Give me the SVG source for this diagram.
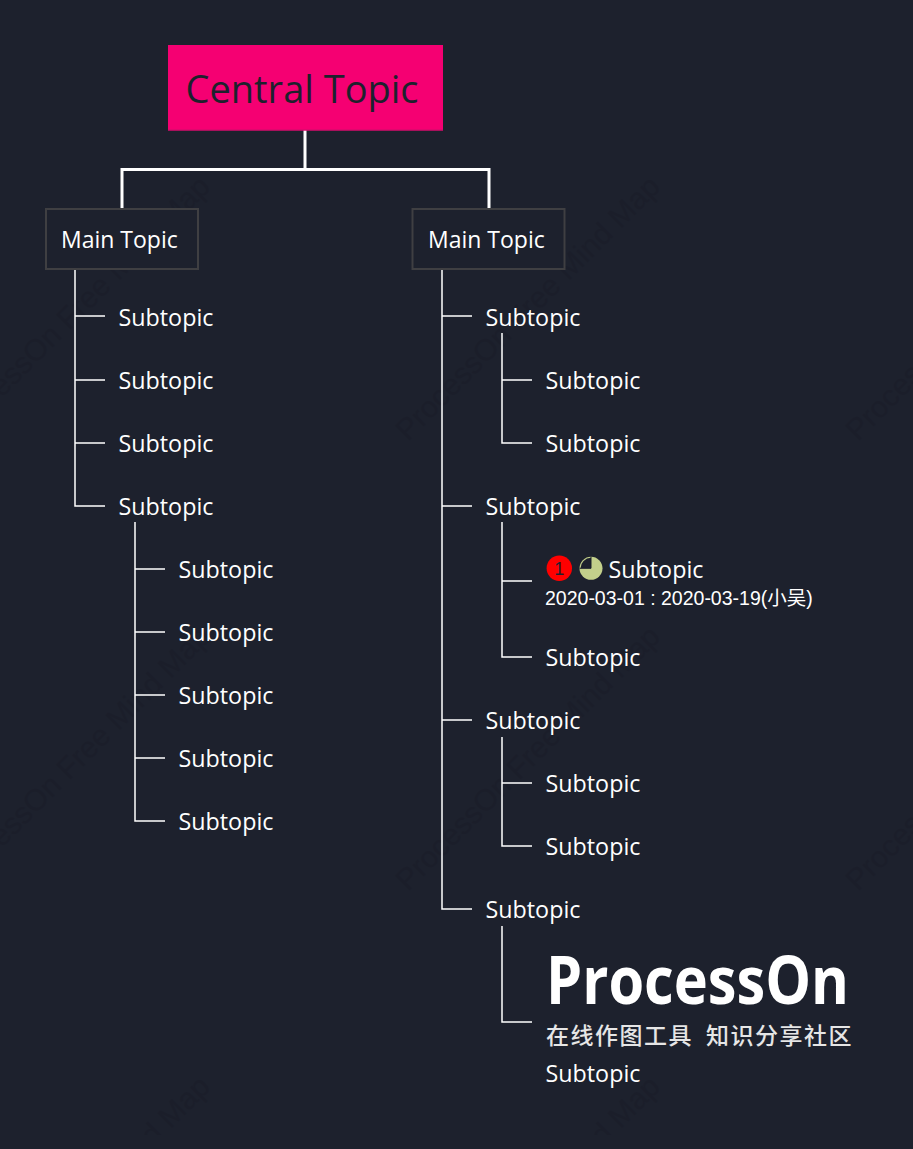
<svg xmlns="http://www.w3.org/2000/svg" width="913" height="1149" viewBox="0 0 913 1149">
<style>
text{font-family:"Open Sans","Noto Sans","Noto Sans CJK SC",sans-serif}
.s{font-size:23.3px;fill:#fff}
.m{font-size:23px;fill:#fff}
.c{fill:none;stroke:#fff;stroke-width:1.5}
.t{fill:none;stroke:#fff;stroke-width:3}
.b{fill:#1d212d;stroke:#3f3f42;stroke-width:2}
.w{font-size:30px;fill:#1b1e2a;font-family:"Liberation Sans",sans-serif}
</style>
<defs><clipPath id="wm"><rect width="913" height="1135"/></clipPath></defs>
<rect width="913" height="1149" fill="#1d212d"/>
<g id="watermarks" clip-path="url(#wm)">
<text class="w" textLength="359" transform="translate(-42 442) rotate(-45)">ProcessOn Free Mind Map</text>
<text class="w" textLength="359" transform="translate(408 442) rotate(-45)">ProcessOn Free Mind Map</text>
<text class="w" textLength="359" transform="translate(858 442) rotate(-45)">ProcessOn Free Mind Map</text>
<text class="w" textLength="359" transform="translate(-42 892) rotate(-45)">ProcessOn Free Mind Map</text>
<text class="w" textLength="359" transform="translate(408 892) rotate(-45)">ProcessOn Free Mind Map</text>
<text class="w" textLength="359" transform="translate(858 892) rotate(-45)">ProcessOn Free Mind Map</text>
<text class="w" textLength="359" transform="translate(-42 1342) rotate(-45)">ProcessOn Free Mind Map</text>
<text class="w" textLength="359" transform="translate(408 1342) rotate(-45)">ProcessOn Free Mind Map</text>
</g>
<g id="connectors">
<path class="t" d="M305 130V169.500M122 208V169.500H489V208"/>
<path class="c" d="M75 269V506H105M75 316H105M75 380H105M75 443H105"/>
<path class="c" d="M135 522V821H165M135 569H165M135 632H165M135 695H165M135 758H165"/>
<path class="c" d="M442 269V909H472M442 316H472M442 506H472M442 720H472"/>
<path class="c" d="M502 333V443H532M502 380H532"/>
<path class="c" d="M502 522V657H532M502 581H532"/>
<path class="c" d="M502 737V846H532M502 783H532"/>
<path class="c" d="M502 926V1022H532"/>
</g>
<g id="central"><rect x="168" y="45" width="275" height="85.500" fill="#f50072"/><path d="M168 130H443" stroke="#c9106a" stroke-width="1"/><text x="185.500" y="103" font-size="38" fill="#1d212d">Central Topic</text></g>
<g id="main-left"><rect class="b" x="46" y="209" width="152" height="60"/><text class="m" x="61" y="248">Main Topic</text></g>
<g id="main-right"><rect class="b" x="412.500" y="209" width="152" height="60"/><text class="m" x="428" y="248">Main Topic</text></g>
<g id="left-subs">
<text class="s" x="118.500" y="326">Subtopic</text>
<text class="s" x="118.500" y="389">Subtopic</text>
<text class="s" x="118.500" y="452">Subtopic</text>
<text class="s" x="118.500" y="515">Subtopic</text>
<text class="s" x="178.500" y="578">Subtopic</text>
<text class="s" x="178.500" y="641">Subtopic</text>
<text class="s" x="178.500" y="704">Subtopic</text>
<text class="s" x="178.500" y="767">Subtopic</text>
<text class="s" x="178.500" y="830">Subtopic</text>
</g>
<g id="right-subs">
<text class="s" x="485.500" y="326">Subtopic</text>
<text class="s" x="545.500" y="389">Subtopic</text>
<text class="s" x="545.500" y="452">Subtopic</text>
<text class="s" x="485.500" y="515">Subtopic</text>
<text class="s" x="545.500" y="666">Subtopic</text>
<text class="s" x="485.500" y="729">Subtopic</text>
<text class="s" x="545.500" y="792">Subtopic</text>
<text class="s" x="545.500" y="855">Subtopic</text>
<text class="s" x="485.500" y="918">Subtopic</text>
</g>
<g id="task-node">
<circle cx="559.300" cy="568.300" r="12.700" fill="#f00"/>
<text x="559.300" y="575" text-anchor="middle" font-size="18" fill="#1d212d" style="font-family:'Liberation Sans',sans-serif">1</text>
<circle cx="591" cy="568.300" r="11.500" fill="#c3d08b"/>
<path d="M591 568.300V557.800A10.500 10.500 0 0 0 580.500 568.300Z" fill="#1d212d"/>
<path d="M591 556.800V568.300H579.500" fill="none" stroke="#1d212d" stroke-width="1"/>
<text class="s" x="608.500" y="578">Subtopic</text>
<text x="545" y="605" font-size="19.500" fill="#fff" style="font-family:'Liberation Sans','Noto Sans CJK SC',sans-serif">2020-03-01 : 2020-03-19(小吴)</text>
</g>
<g id="logo-node">
<text x="546" y="1004" font-size="66" font-weight="700" fill="#fff" textLength="303" lengthAdjust="spacingAndGlyphs">ProcessOn</text>
<text y="1044" font-size="23" font-weight="500" fill="#e6e6e6" letter-spacing="1.500" style="font-family:'Noto Sans CJK SC',sans-serif"><tspan x="546">在线作图工具</tspan><tspan x="706">知识分享社区</tspan></text>
<text class="s" x="545.500" y="1082">Subtopic</text>
</g>
</svg>
